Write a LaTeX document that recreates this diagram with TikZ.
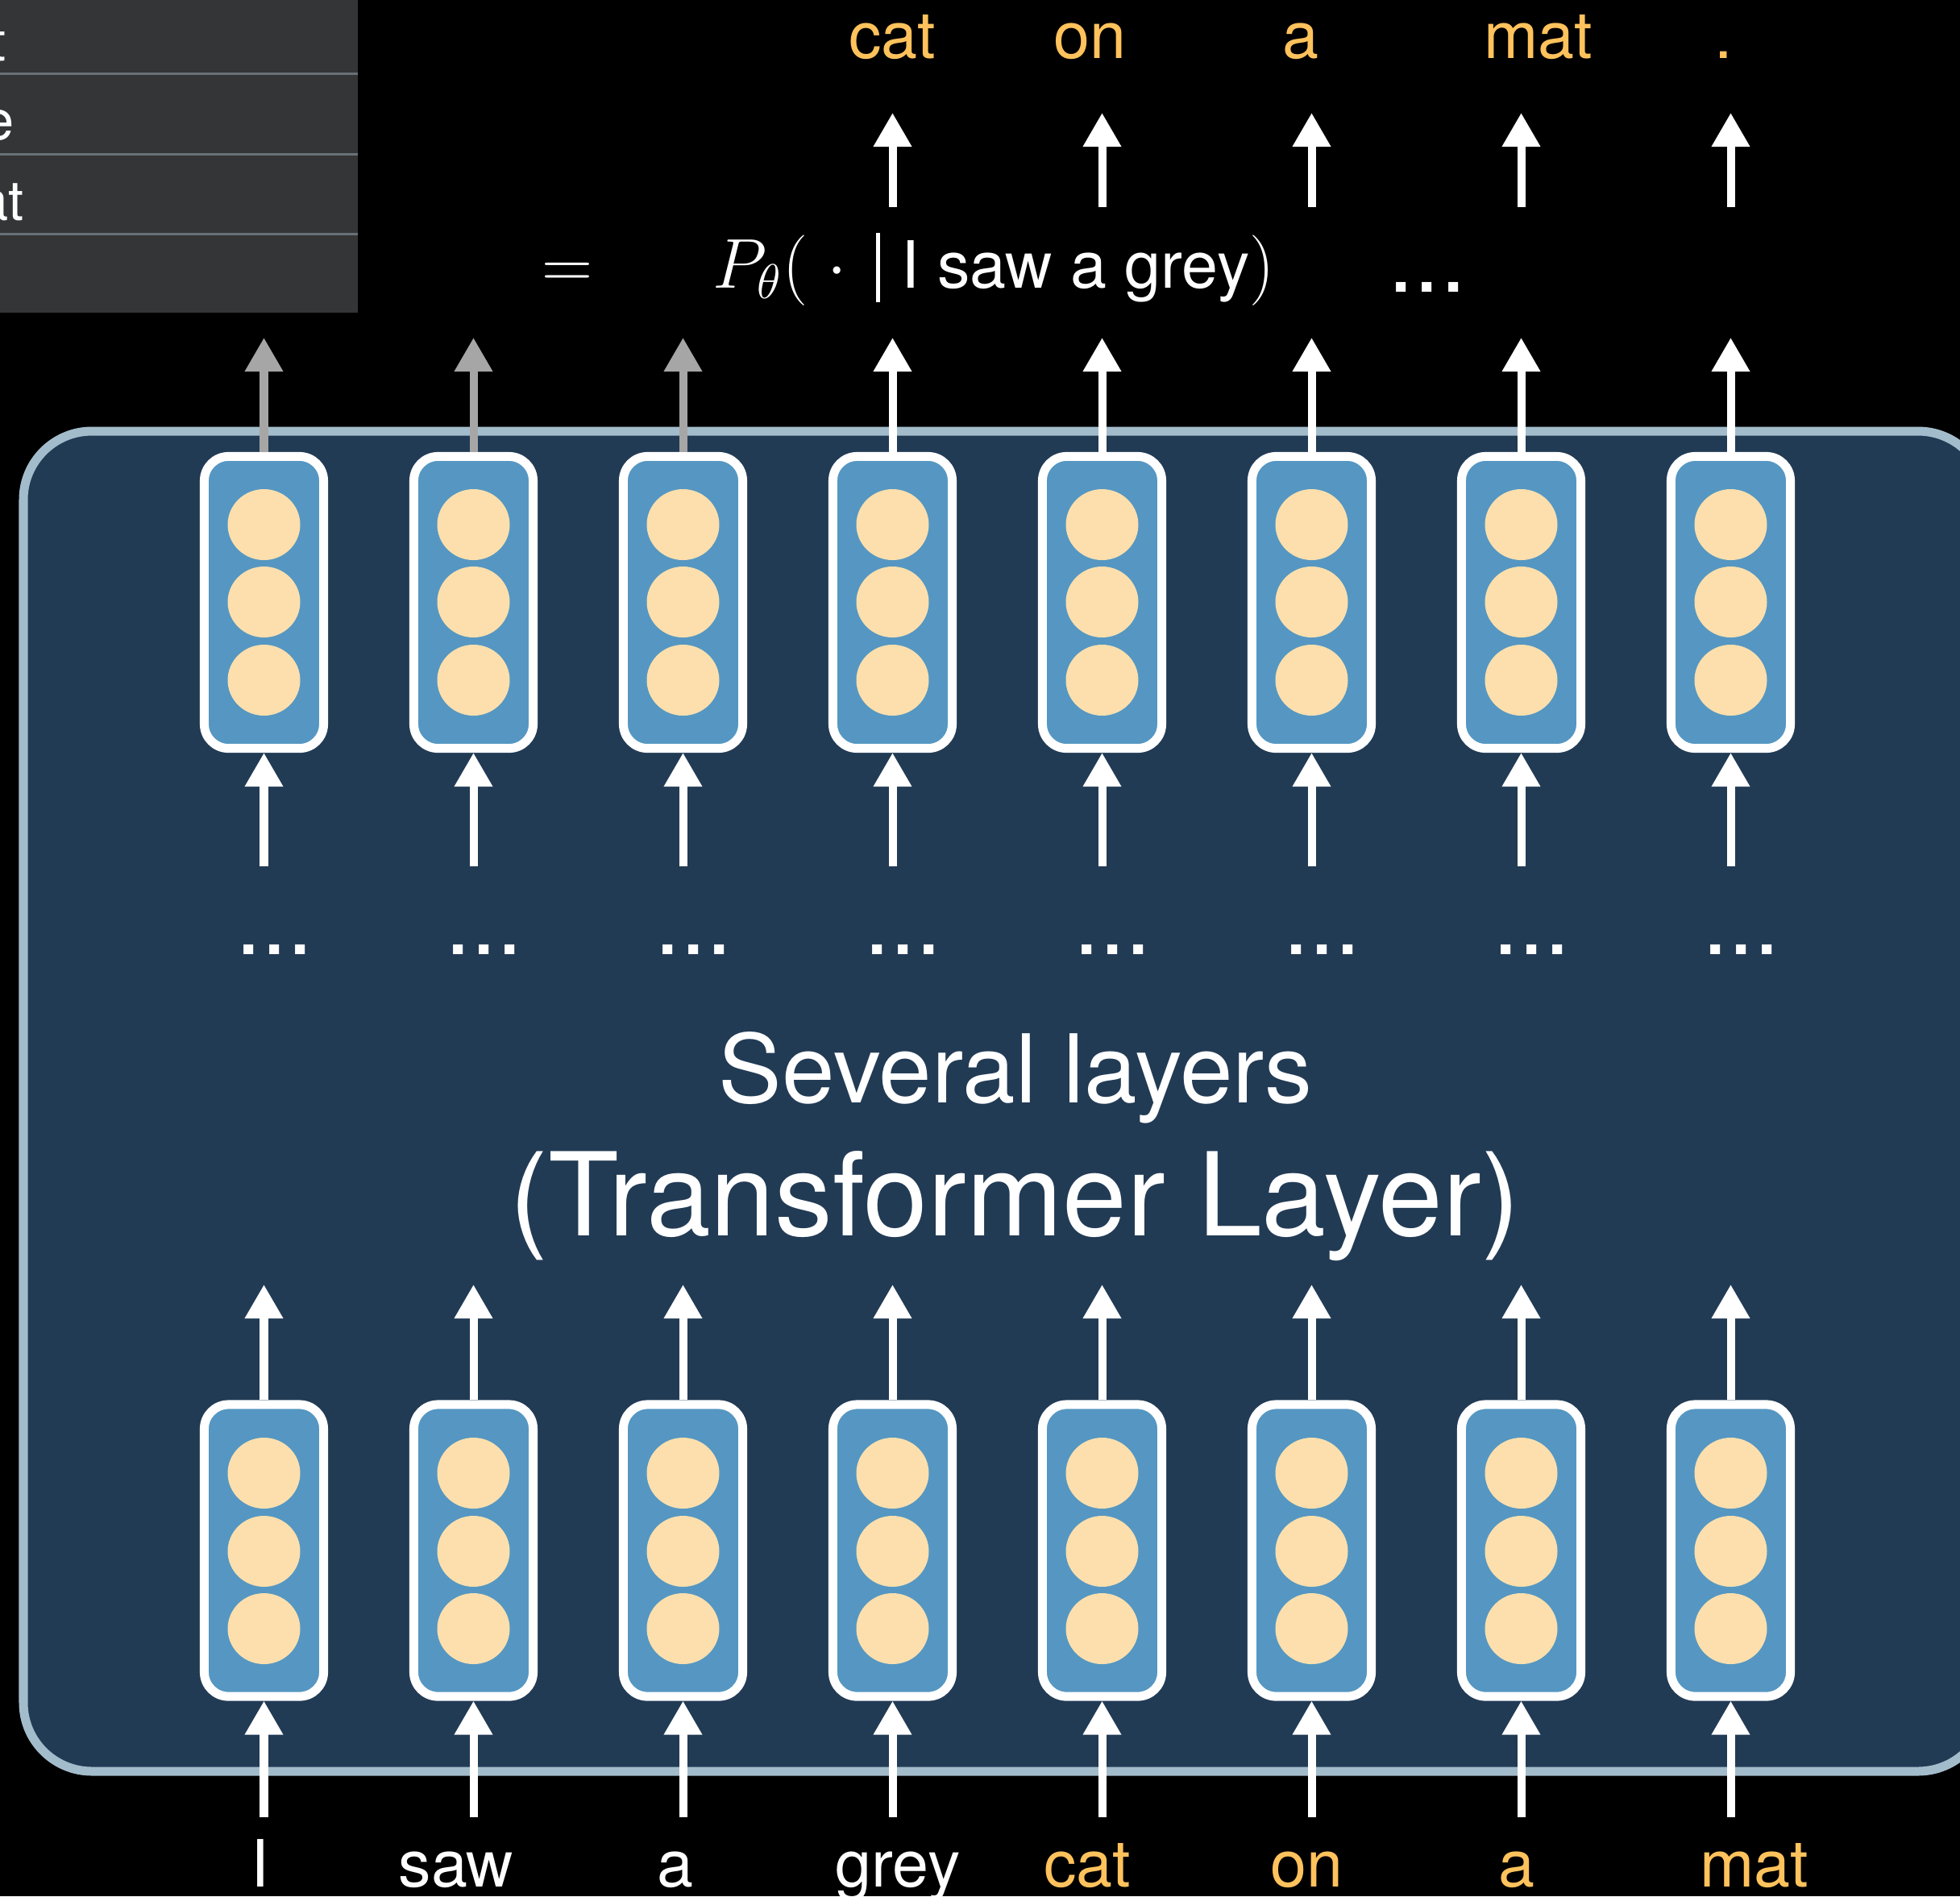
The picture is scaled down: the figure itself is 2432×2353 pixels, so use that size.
\documentclass[tikz,border=0pt]{standalone}
\usepackage[no-math]{fontspec}
\setmainfont{TeX Gyre Heros}
\usetikzlibrary{arrows.meta}

\definecolor{fond}{HTML}{223B55}
\definecolor{cadre}{HTML}{A3BCCB}
\definecolor{cellule}{HTML}{5597C2}
\definecolor{neurone}{HTML}{FCDFAD}
\definecolor{motcible}{HTML}{FFC25C}
\definecolor{grisfleche}{HTML}{A6A6A6}
\definecolor{panneau}{HTML}{343537}
\definecolor{trait}{HTML}{687177}

\tikzset{
    boite/.style={draw=white, line width=0.11cm, fill=cellule, rounded corners=0.3cm,
                  minimum width=1.48cm, minimum height=3.62cm, inner sep=0pt},
    fleche/.style={white, line width=0.1cm, -{Triangle[length=0.42cm,width=0.45cm]}},
    mot/.style={font=\fontsize{23}{28}\selectfont, inner sep=0pt, anchor=base},
    points/.style={font=\fontsize{33}{40}\selectfont, white, inner sep=0pt, anchor=base},
}

\begin{document}
\begin{tikzpicture}[x=0.01cm, y=-0.01cm]
    % Fond noir
    \useasboundingbox (0,0) rectangle (2432,2353);
    \fill[black] (0,0) rectangle (2432,2353);

    % Panneau gris en haut a gauche
    \fill[panneau] (0,0) rectangle (444,388);
    \foreach \y in {91,191,290}
        \draw[trait, line width=0.03cm] (0,\y) -- (444,\y);
    \node[mot, white, anchor=base east, font=\fontsize{19.5}{24}\selectfont] (r1) at (8,75) {t};
    \node[mot, white, anchor=base east, font=\fontsize{19.5}{24}\selectfont] (r2) at (18,173) {e};
    \node[mot, white, anchor=base east, font=\fontsize{19.5}{24}\selectfont] (r3) at (30,273) {at};

    % Grand cadre arrondi
    \draw[cadre, fill=fond, line width=0.11cm, rounded corners=0.85cm] (29,535) rectangle (2465,2198);

    % Cellules et neurones
    \foreach \i in {1,...,8} {
        \pgfmathsetmacro{\x}{327.5+260*(\i-1)}
        \node[boite] (h\i) at (\x,747.5) {};
        \node[boite] (b\i) at (\x,1924) {};
        \foreach \yy in {651,747,844,1828,1925,2021}
            \fill[neurone] (\x,\yy) ellipse [x radius=45, y radius=44];
    }

    % Fleches dans le cadre
    \foreach \i in {1,...,8} {
        \pgfmathsetmacro{\x}{327.5+260*(\i-1)}
        \coordinate (e\i) at (\x,2255);
        \coordinate (s\i) at (\x,1594);
        \coordinate (m\i) at (\x,1075);
        \coordinate (t\i) at (\x,419);
        \draw[fleche] (e\i) -- (b\i);
        \draw[fleche] (b\i) -- (s\i);
        \draw[fleche] (m\i) -- (h\i);
        \node[points] (p\i) at (\x+13,1184) {...};
    }
    \foreach \i in {1,2,3}
        \draw[fleche, grisfleche] (h\i) -- (t\i);
    \foreach \i in {4,...,8}
        \draw[fleche] (h\i) -- (t\i);

    % Fleches vers les mots predits
    \foreach \i in {4,...,8} {
        \pgfmathsetmacro{\x}{327.5+260*(\i-1)}
        \coordinate (u\i) at (\x,257);
        \coordinate (v\i) at (\x,140);
        \draw[fleche] (u\i) -- (v\i);
    }

    % Mots d'entree
    \foreach \i/\x/\m in {1/323/I, 2/566/saw, 3/838/a, 4/1114/grey}
        \node[mot, white] (w\i) at (\x,2341) {\m};
    \foreach \i/\x/\m in {5/1349/cat, 6/1621/on, 7/1882/a, 8/2177/mat}
        \node[mot, motcible] (w\i) at (\x,2341) {\m};

    % Mots predits
    \foreach \i/\x/\m in {4/1107/cat, 5/1352/on, 6/1614/a, 7/1909/mat, 8/2139/.}
        \node[mot, motcible] (o\i) at (\x,72) {\m};

    % Texte central
    \node[mot, white, font=\fontsize{33.5}{40}\selectfont] (titre) at (1260,1368) {Several layers};
    \node[mot, white, font=\fontsize{40.8}{48}\selectfont] (sous) at (1259,1533) {(Transformer Layer)};

    % Equation
    \node[mot, white, font=\fontsize{26}{30}\selectfont] (egal) at (704,357) {$=$};
    \node[mot, white, anchor=base west, font=\fontsize{26}{30}\selectfont] (proba) at (884,357)
        {$P_\theta(\;\cdot$\hspace{0.36cm}\rule[-0.18cm]{0.055cm}{0.86cm}\hspace{0.26cm}{\fontsize{23}{28}\selectfont I saw a grey}$)$};
    \node[points] (suite) at (1771,362) {...};
\end{tikzpicture}
\end{document}
